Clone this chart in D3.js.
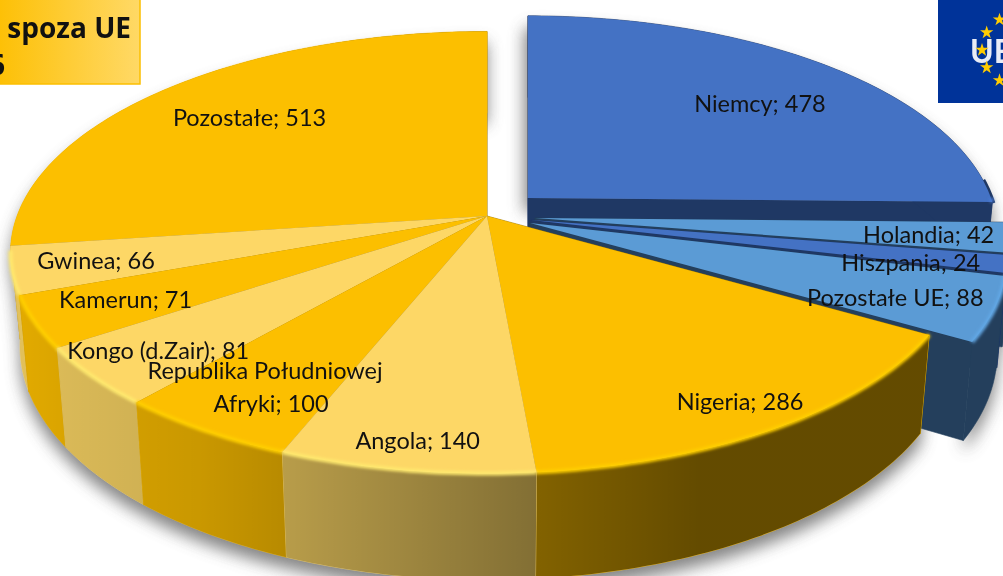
<!DOCTYPE html>
<html lang="pl">
<head>
<meta charset="utf-8">
<script src="https://cdn.jsdelivr.net/npm/d3@7/dist/d3.min.js"></script>
<style>
html,body{margin:0;padding:0;background:#fff;overflow:hidden}
svg{display:block}
text{font-family:Lato,"Open Sans",sans-serif;fill:#111}
</style>
</head>
<body>
<svg id="c" width="1003" height="576"></svg>
<script>
// DATA
const categories = ["Niemcy","Holandia","Hiszpania","Pozostałe UE","Nigeria","Angola","Republika Południowej Afryki","Kongo (d.Zair)","Kamerun","Gwinea","Pozostałe"];
const values = [478,42,24,88,286,140,100,81,71,66,513];
const topColors = ["#4472c4","#5b9bd5","#4472c4","#5b9bd5","#fcbf00","#fdd766","#fcbf00","#fdd766","#fcbf00","#fdd766","#fcbf00"];
const wallColors = ["#1f3864","#243f5c","#1f3864","#243f5c","#ffc000","#ffd966","#ffc000","#ffd966","#ffc000","#ffd966","#ffc000"];
const titleLines = ["spoza UE","6"];
const logoText = "UE";

// LAYOUT
const W = 1003, H = 576;
const center = [487,216], radiusX = 470, radiusY = 215, persp = 0.165;
const baseCy = 308, baseRy = 227, baseShrink = 0.98;
const explode = [[41,-18],[48,2],[44,4],[43,7],[0,0],[0,0],[0,0],[0,0],[0,0],[0,0],[0,0]];
const rimScale = [0.985,1,1,1,1,1,1,1,1,1,1];
const labelFraction = 0.72;
const labelNudge = [[12,4],[53,3],[40,11],[37,14],[52,40],[-14,51],[-27,24],[-54,23],[-43,9],[-53,6],[-1,-4]];
const labelLines = [null,null,null,null,null,null,["Republika Południowej","Afryki; 100"],null,null,null,null];
const lineShift = [null,null,null,null,null,null,[0,6],null,null,null,null];

const svg = d3.select("#c");
const defs = svg.append("defs");
const addBlur = (id,s)=>defs.append("filter").attr("id",id)
  .attr("filterUnits","userSpaceOnUse").attr("x",-50).attr("y",-50).attr("width",W+100).attr("height",H+100)
  .append("feGaussianBlur").attr("stdDeviation",s);
addBlur("shadow",8); addBlur("soft",1.6); addBlur("logoBlur",0.5);

const shade = defs.append("linearGradient").attr("id","wallShade")
  .attr("gradientUnits","userSpaceOnUse").attr("x1",0).attr("x2",W).attr("y1",0).attr("y2",0);
[[0,.1],[70,.15],[200,.21],[285,.28],[537,.49],[700,.61],[1003,.61]].forEach(([x,o])=>
  shade.append("stop").attr("offset",x/W).attr("stop-color","#000").attr("stop-opacity",o));
const boxGrad = defs.append("linearGradient").attr("id","boxGrad");
boxGrad.append("stop").attr("offset",0.68).attr("stop-color","#fdc006");
boxGrad.append("stop").attr("offset",1).attr("stop-color","#ffd966");

const arcs = d3.pie().sort(null).startAngle(0).endAngle(2*Math.PI)(values);
const pathLine = d3.line();
const STEP = Math.PI/180;

function topAt(a,r,i){
  const R=r*rimScale[i], x=R*Math.sin(a), y=-R*Math.cos(a), s=1/(1-persp*y);
  return [center[0]+explode[i][0]+radiusX*x*s, center[1]+explode[i][1]+radiusY*y*s];
}
function baseAt(a,r,i){
  const R=r*rimScale[i], x=R*Math.sin(a), y=-R*Math.cos(a), s=1/(1-persp*y);
  return [center[0]+explode[i][0]+baseShrink*radiusX*x*s, baseCy+explode[i][1]+baseRy*y*s];
}
function angles(d){
  const n=Math.max(2,Math.ceil((d.endAngle-d.startAngle)/STEP));
  return d3.range(n+1).map(k=>d.startAngle+(d.endAngle-d.startAngle)*k/n);
}
const topPts = (d,i)=>[topAt(0,0,i),...angles(d).map(a=>topAt(a,1,i))];
const rimPts = (d,i)=>angles(d).map(a=>topAt(a,1,i));
const basePts = (d,i)=>angles(d).map(a=>baseAt(a,1,i));
const wallPts = (d,i)=>[...rimPts(d,i),...basePts(d,i).reverse()];
const cutPts = (a,i)=>[topAt(0,0,i),topAt(a,1,i),baseAt(a,1,i),baseAt(0,0,i)];

// ground shadow
const gShadow = svg.append("g").attr("filter","url(#shadow)").attr("opacity",.72);
arcs.forEach((d,i)=>{
  gShadow.append("path").attr("d",pathLine(wallPts(d,i))+"Z").attr("fill","#555").attr("transform","translate(0,11)");
  if(i===0) gShadow.append("path").attr("d",pathLine(topPts(d,i))+"Z").attr("fill","#555").attr("transform","translate(-4,14)");
});

function drawSlice(g,d,i){
  // both radial faces, then the outer wall
  const cutFill = i<4?wallColors[i]:d3.color(wallColors[i]).darker(1.4).formatHex();
  [d.startAngle,d.endAngle].forEach(a=>
    g.append("path").attr("d",pathLine(cutPts(a,i))+"Z").attr("fill",cutFill).attr("stroke",cutFill).attr("stroke-width",.6));
  g.append("path").attr("d",pathLine(wallPts(d,i))+"Z").attr("fill",wallColors[i]).attr("stroke",wallColors[i]).attr("stroke-width",.6);
  if(i>=4) g.append("path").attr("d",pathLine(wallPts(d,i))+"Z").attr("fill","url(#wallShade)");
}
function drawTop(g,d,i){
  g.append("path").attr("d",pathLine(topPts(d,i))+"Z").attr("fill",topColors[i]);
  // soft bevel along the part of the rim that faces the viewer
  const a0=Math.max(d.startAngle,Math.PI/2), a1=Math.min(d.endAngle,1.45*Math.PI);
  if(a1>a0){
    g.append("path").attr("d",pathLine(rimPts({startAngle:a0,endAngle:a1},i)))
      .attr("fill","none").attr("stroke",d3.color(topColors[i]).brighter(.22).formatHex())
      .attr("stroke-width",4).attr("filter","url(#soft)");
  }
}
const eu = svg.append("g"), non = svg.append("g");
// thin dark edge on the outer right of the first slice
eu.append("path").attr("d",pathLine(rimPts({startAngle:arcs[0].endAngle*0.93,endAngle:arcs[0].endAngle},0)))
  .attr("transform","translate(1.5,1)").attr("fill","none").attr("stroke",wallColors[0]).attr("stroke-width",3);
d3.range(4).forEach(i=>drawSlice(eu,arcs[i],i));
d3.range(4).forEach(i=>drawTop(eu,arcs[i],i));
const order = [10,9,8,7,4,6,5];
order.forEach(i=>drawSlice(non,arcs[i],i));
order.forEach(i=>drawTop(non,arcs[i],i));

// labels
const fs = 23.5;
const lab = svg.append("g").attr("font-size",fs).attr("text-anchor","middle");
arcs.forEach((d,i)=>{
  const [x,y]=topAt((d.startAngle+d.endAngle)/2,labelFraction,i);
  const cx=x+labelNudge[i][0], cy=y+labelNudge[i][1];
  const lines = labelLines[i] || [categories[i]+"; "+values[i]];
  const t = lab.append("text").attr("x",cx).attr("y",cy);
  lines.forEach((s,k)=>t.append("tspan").attr("x",cx+(lineShift[i]?lineShift[i][k]:0))
    .attr("dy",k===0?(0.35-(lines.length-1)*0.7)+"em":"1.4em").text(s));
});

// title box, cut by the left and top page edges
svg.append("rect").attr("x",-300).attr("y",-20).attr("width",440).attr("height",104)
  .attr("fill","url(#boxGrad)").attr("stroke","#fcbf00").attr("stroke-width",1.5);
const titleG = svg.append("g").attr("text-anchor","end");
titleG.append("text").attr("x",131).attr("y",38).attr("font-size",28).attr("font-weight",700).style("font-family","'Open Sans',sans-serif").text(titleLines[0]);
titleG.append("text").attr("x",5).attr("y",75).attr("font-size",28).attr("font-weight",700).style("font-family","'Open Sans',sans-serif").text(titleLines[1]);

// EU logo, cut by the right page edge
const logo = svg.append("g");
logo.append("rect").attr("x",938).attr("y",-2).attr("width",70).attr("height",105).attr("fill","#003399");
const starC=[1017,50], starR=35;
const star = d3.symbol().type(d3.symbolStar).size(55);
logo.append("text").attr("x",970).attr("y",63).attr("font-size",32).attr("font-weight",700)
  .style("fill","#e8ecf6").attr("filter","url(#logoBlur)").text(logoText);
d3.range(12).forEach(k=>{
  const a=k*Math.PI/6;
  logo.append("path").attr("d",star)
    .attr("transform",`translate(${starC[0]+starR*Math.sin(a)},${starC[1]-starR*Math.cos(a)})`)
    .attr("fill","#ffcc00");
});
</script>
</body>
</html>
